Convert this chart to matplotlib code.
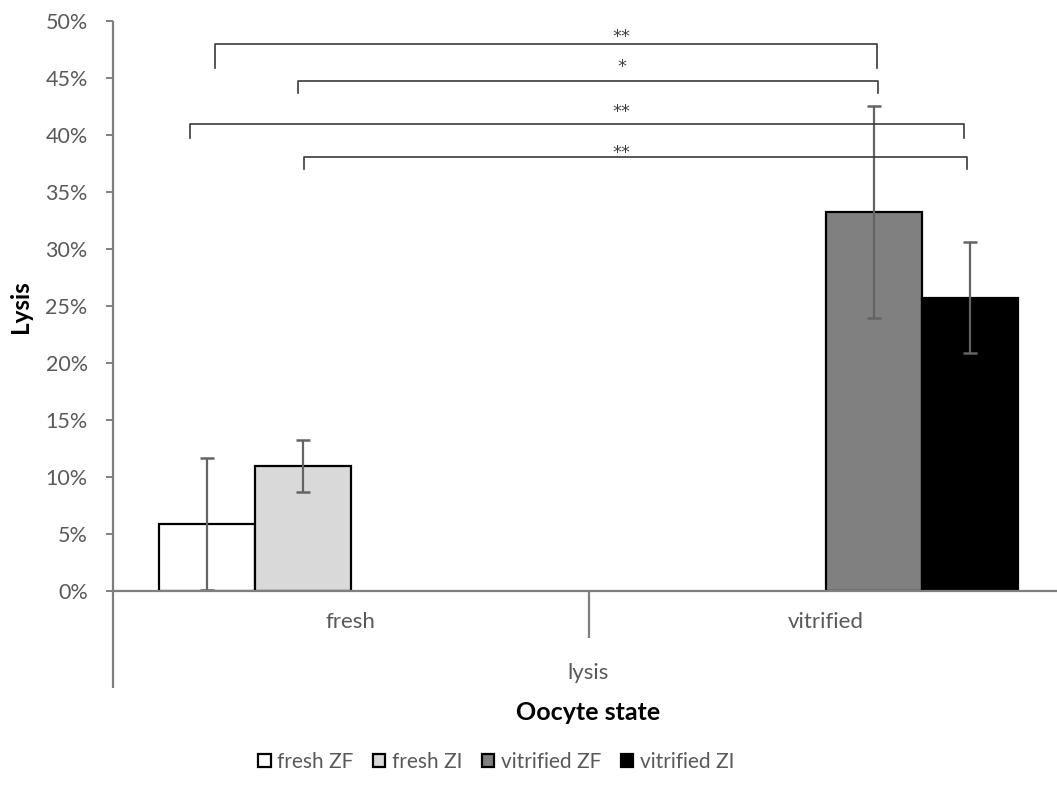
import numpy as np
import matplotlib
matplotlib.use("Agg")
import matplotlib.pyplot as plt
from matplotlib.ticker import FuncFormatter

plt.rcParams['font.family'] = ['Lato', 'DejaVu Sans']

# ---- data ----
categories = ['fresh', 'vitrified']
series_names = ['fresh ZF', 'fresh ZI', 'vitrified ZF', 'vitrified ZI']
fresh_zf = [5.85, np.nan]
fresh_zi = [10.96, np.nan]
vitrified_zf = [np.nan, 33.27]
vitrified_zi = [np.nan, 25.73]
fresh_zf_err = [5.8, np.nan]
fresh_zi_err = [2.3, np.nan]
vitrified_zf_err = [np.nan, 9.3]
vitrified_zi_err = [np.nan, 4.88]
group_label = 'lysis'
y_ticks = [0, 5, 10, 15, 20, 25, 30, 35, 40, 45, 50]

# significance brackets
bracket_x_left = [-0.286, -0.110, -0.338, -0.098]
bracket_x_right = [1.106, 1.109, 1.290, 1.295]
bracket_y_top = [47.96, 44.74, 40.94, 38.07]
bracket_y_left = [45.92, 43.68, 39.72, 37.02]
bracket_y_right = [45.92, 43.68, 39.72, 37.02]
bracket_labels = ['**', '*', '**', '**']
bracket_label_y = [48.6, 46.0, 42.0, 38.4]
bracket_label_x = 0.57

series_values = [fresh_zf, fresh_zi, vitrified_zf, vitrified_zi]
series_errors = [fresh_zf_err, fresh_zi_err, vitrified_zf_err, vitrified_zi_err]
series_colors = ['#ffffff', '#d9d9d9', '#808080', '#000000']

# ---- figure ----
W, H = 1057, 798
fig = plt.figure(figsize=(W / 100, H / 100), dpi=100)
ax_left, ax_right, ax_top, ax_bottom = 113, 1064, 21, 591
ax = fig.add_axes([ax_left / W, 1 - ax_bottom / H, (ax_right - ax_left) / W, (ax_bottom - ax_top) / H])
ax.set_xlim(-0.5, 1.5)
ax.set_ylim(0, 50)

axis_color = '#7f7f7f'
text_gray = '#595959'
err_color = '#646464'

x = np.arange(len(categories))
bw = 0.202
offsets = (np.arange(4) - 1.5) * bw
handles = []
for i, (vals, errs, col, name) in enumerate(zip(series_values, series_errors, series_colors, series_names)):
    b = ax.bar(x + offsets[i], vals, width=bw, color=col, edgecolor='black', linewidth=1.6,
               label=name, zorder=3)
    handles.append(b)
    ax.errorbar(x + offsets[i], vals, yerr=errs, fmt='none', ecolor=err_color, elinewidth=1.6,
                capsize=4.7, capthick=1.8, zorder=4)

for s in ['top', 'right', 'left']:
    ax.spines[s].set_visible(False)
ax.spines['bottom'].set_color(axis_color)
ax.spines['bottom'].set_linewidth(1.6)
ax.spines['bottom'].set_zorder(5)
ax.plot([0, 0], [-(688 - 591) / 570, 1], transform=ax.transAxes, color=axis_color,
        lw=1.6, clip_on=False, zorder=5, solid_capstyle='butt')
ax.plot([0.5, 0.5], [0, -(638 - 591) / 570], transform=ax.get_xaxis_transform(),
        color=axis_color, lw=1.6, clip_on=False, zorder=5, solid_capstyle='butt')

ax.set_yticks(y_ticks)
ax.yaxis.set_major_formatter(FuncFormatter(lambda v, p: f'{int(v)}%'))
ax.tick_params(axis='y', direction='out', length=5.2, width=1.4, color=axis_color,
               labelcolor=text_gray, labelsize=15.5, pad=13)
ax.set_xticks(x, categories)
ax.tick_params(axis='x', length=0, labelcolor=text_gray, labelsize=16, pad=15)

fig.text(588 / W, 1 - 673 / H, group_label, ha='center', va='center', color=text_gray, fontsize=16)
fig.text(588 / W, 1 - 713 / H, 'Oocyte state', ha='center', va='center', color='black',
         fontsize=18, fontweight='bold')
fig.text(20 / W, 1 - 307 / H, 'Lysis', ha='center', va='center', color='black', rotation=90,
         fontsize=17.5, fontweight='bold')

for xl, xr, yt, yl, yr, lab, ly in zip(bracket_x_left, bracket_x_right, bracket_y_top,
                                       bracket_y_left, bracket_y_right, bracket_labels, bracket_label_y):
    ax.plot([xl, xl, xr, xr], [yl, yt, yt, yr], color='#3a3a3a', lw=1.2, zorder=6,
            solid_joinstyle='round')
    ax.text(bracket_label_x, ly, lab, ha='center', va='center', fontsize=13, color='#404040',
            zorder=7, family='DejaVu Sans')

leg = fig.legend(handles=handles, labels=series_names, loc='center', ncol=4,
                 bbox_to_anchor=(496 / W, 1 - 762 / H), frameon=False, fontsize=15,
                 handlelength=0.6, handleheight=0.6, handletextpad=0.3, columnspacing=0.95,
                 labelcolor=text_gray)

fig.savefig('out.png', dpi=100)
